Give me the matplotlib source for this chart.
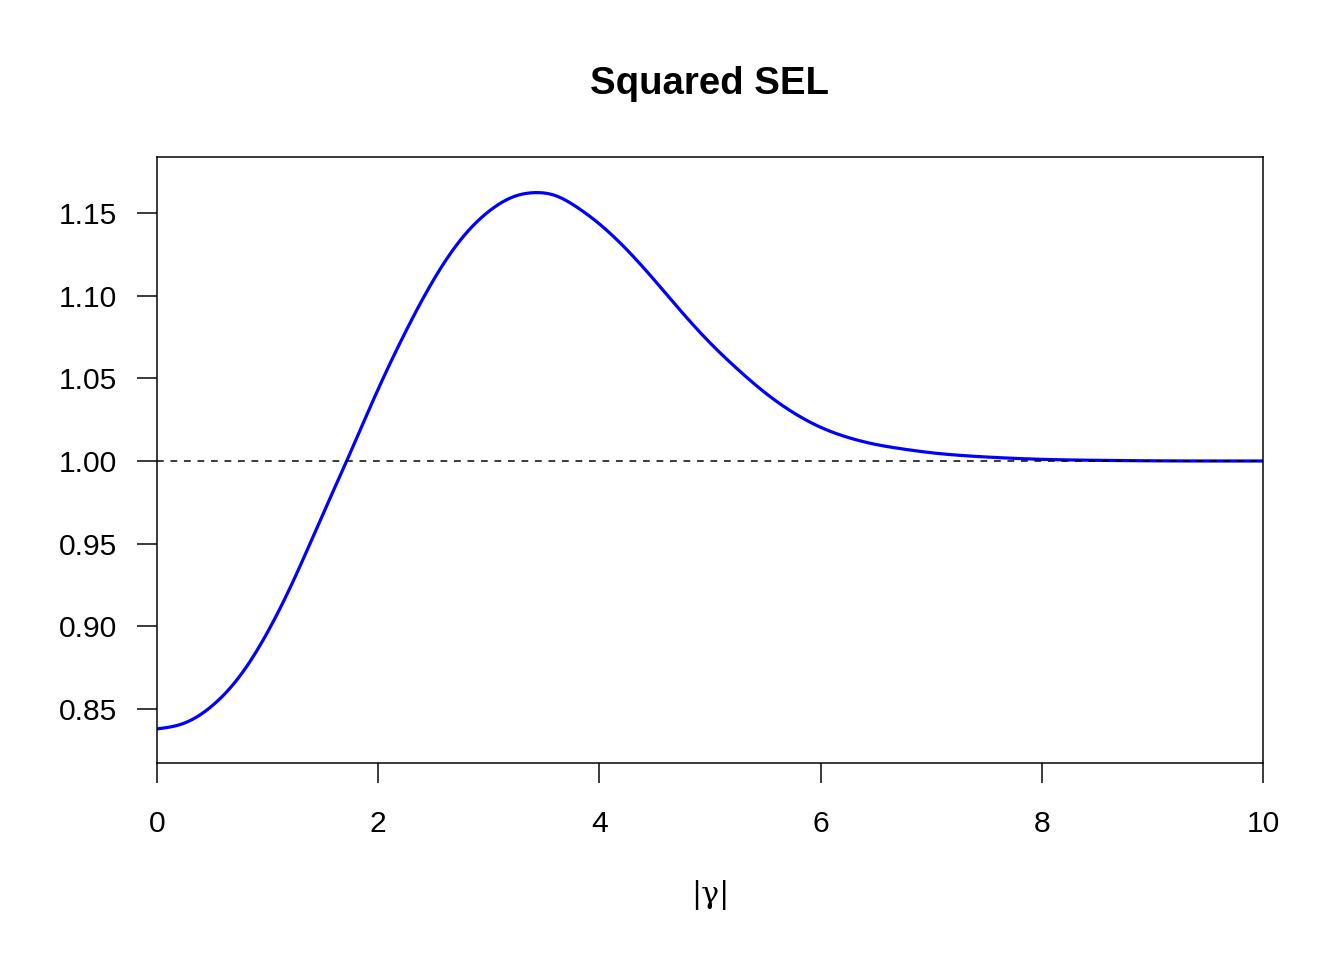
import numpy as np
import matplotlib.pyplot as plt

plt.rcParams.update({
    "font.family": ["Liberation Sans", "DejaVu Sans"],
    "font.size": 15,
})

# values
gamma = [0.0, 0.25, 0.5, 0.75, 1.0, 1.25, 1.5, 1.715, 2.0, 2.25, 2.5, 2.75,
         3.0, 3.25, 3.4, 3.6, 3.8, 4.0, 4.25, 4.5, 4.75, 5.0, 5.25, 5.5,
         5.75, 6.0, 6.25, 6.5, 6.75, 7.0, 7.5, 8.0, 8.5, 9.0, 10.0]
ratio = [0.8379, 0.8415, 0.8520, 0.8700, 0.8965, 0.9300, 0.9678, 1.0,
         1.0435, 1.0785, 1.1095, 1.1342, 1.1510, 1.1605, 1.1623, 1.1606,
         1.1534, 1.1434, 1.1277, 1.1092, 1.0897, 1.0715, 1.0555, 1.0412,
         1.0294, 1.0204, 1.0142, 1.0100, 1.0072, 1.0050, 1.0024, 1.0010,
         1.0004, 1.0001, 1.0]
xticks = [0, 2, 4, 6, 8, 10]
yticks = [0.85, 0.90, 0.95, 1.00, 1.05, 1.10, 1.15]


# natural cubic spline through the read points
def spline(x, y, xs):
    x = np.asarray(x, float); y = np.asarray(y, float)
    n = len(x)
    h = np.diff(x)
    A = np.zeros((n, n)); b = np.zeros(n)
    A[0, 0] = A[-1, -1] = 1.0
    for i in range(1, n - 1):
        A[i, i - 1] = h[i - 1]
        A[i, i] = 2 * (h[i - 1] + h[i])
        A[i, i + 1] = h[i]
        b[i] = 6 * ((y[i + 1] - y[i]) / h[i] - (y[i] - y[i - 1]) / h[i - 1])
    M = np.linalg.solve(A, b)
    idx = np.clip(np.searchsorted(x, xs) - 1, 0, n - 2)
    hi = h[idx]
    a = x[idx + 1] - xs
    c = xs - x[idx]
    return (M[idx] * a**3 / (6 * hi) + M[idx + 1] * c**3 / (6 * hi)
            + (y[idx] / hi - M[idx] * hi / 6) * a
            + (y[idx + 1] / hi - M[idx + 1] * hi / 6) * c)


xs = np.linspace(0, 10, 800)
ys = spline(gamma, ratio, xs)

fig = plt.figure(figsize=(1344/144, 960/144), dpi=144)
ax = fig.add_axes([157/1344, 1 - 763/960, (1263-157)/1344, (763-157)/960])

ax.plot(xs, ys, color="blue", lw=1.6)
ax.axhline(1.0, color="black", lw=0.75, ls=(0, (4.5, 4.5)))

ax.set_xlim(0, 10)
ax.set_ylim(0.8173, 1.1839)
ax.set_xticks(xticks)
ax.set_xticklabels([str(v) for v in xticks])
ax.set_yticks(yticks)
ax.set_yticklabels([f"{v:.2f}" for v in yticks])
ax.tick_params(direction="out", length=10, width=0.75, labelsize=15)
ax.tick_params(axis="x", pad=13.5)
ax.tick_params(axis="y", pad=10)
for s in ax.spines.values():
    s.set_linewidth(0.75)

ax.set_title("Squared SEL", fontweight="bold", fontsize=19.2, pad=31.5)
fig.text(710/1344, 1 - 895/960, "|γ|", ha="center", va="center",
         family=["DejaVu Serif"], fontsize=15)

fig.savefig("out.png", dpi=144)
